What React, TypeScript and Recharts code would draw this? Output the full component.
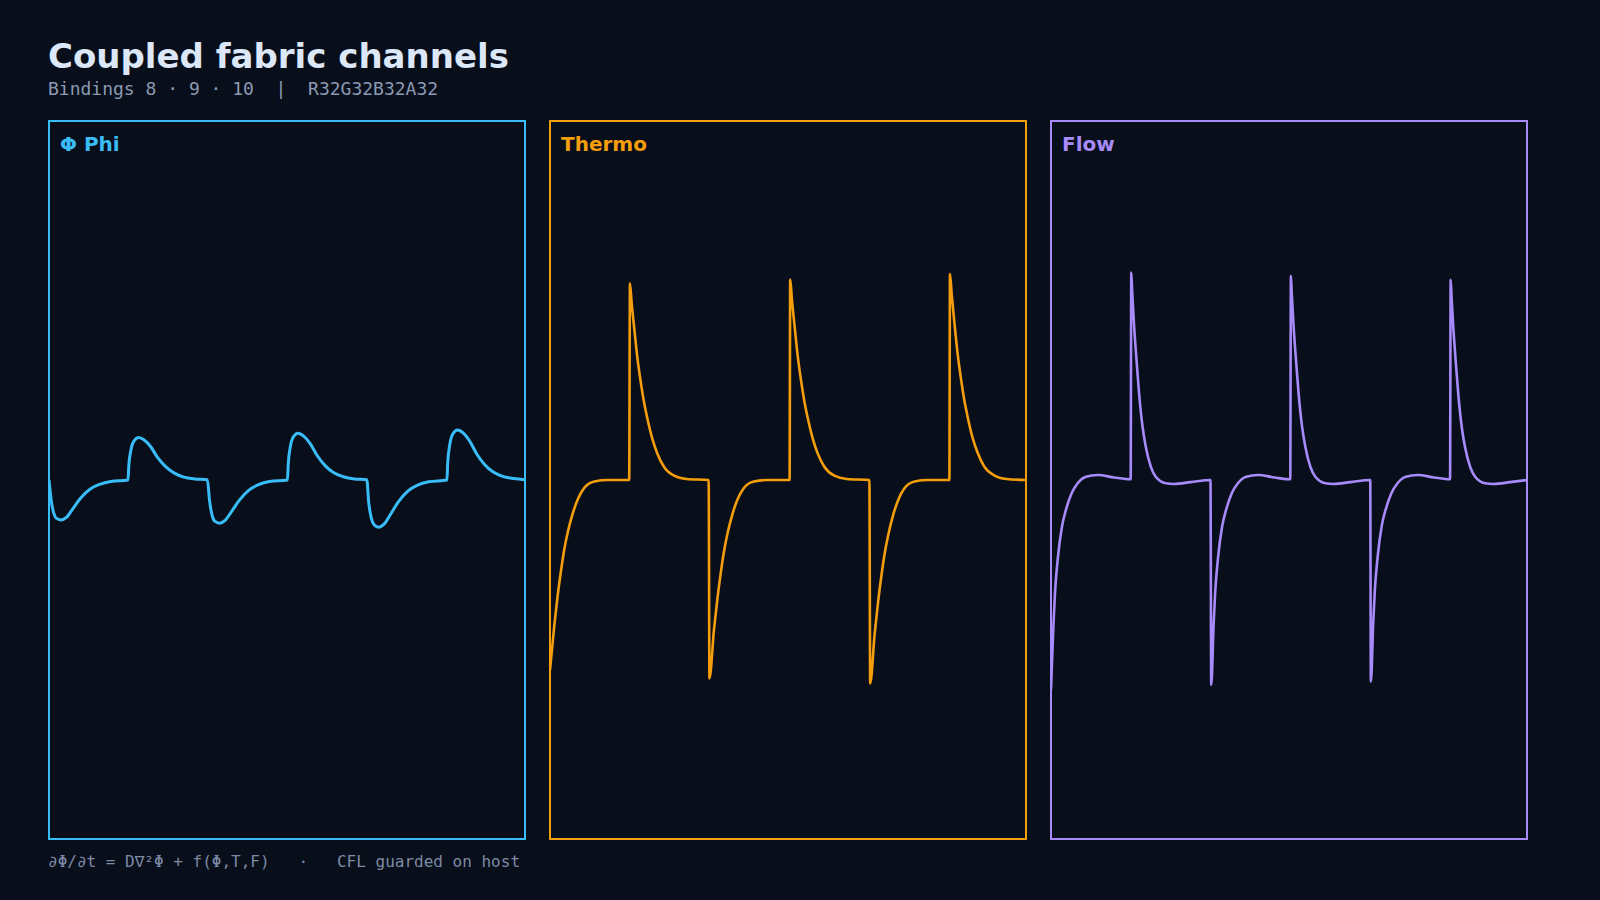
import React from 'react';
import { LineChart, Line, XAxis, YAxis } from 'recharts';

// Sampled channel traces, read off the capture. Time runs 0..300 across a panel,
// values are normalised to -1..1 (panel centre = 0).
const phiTime = [
  0, 1.5, 3, 4.5, 7.5, 11, 15, 20, 26, 32, 39, 49.8,
  50.3, 51.5, 53.5, 56.5, 60, 64, 68.5, 73.5, 79, 85, 92, 99.8,
  101.2, 102.8, 104.6, 107.5, 111, 115, 120, 126, 132, 139, 150.3,
  150.8, 152, 154, 157, 160.5, 164.5, 169, 174, 179.5, 185.5, 192.5, 200.3,
  201.5, 203.1, 204.9, 207.8, 211.3, 215.3, 220.3, 226.3, 232.3, 239.3, 250.8,
  251.3, 252.5, 254.5, 257.5, 261, 265, 269.5, 274.5, 280, 286, 293, 300,
];
const phiValue = [
  0, -0.06, -0.092, -0.106, -0.111, -0.104, -0.08, -0.05, -0.025, -0.012, -0.004, 0,
  0.04, 0.08, 0.108, 0.118, 0.111, 0.093, 0.062, 0.037, 0.019, 0.008, 0.003, 0.001,
  -0.058, -0.098, -0.115, -0.12, -0.112, -0.088, -0.056, -0.028, -0.013, -0.004, 0,
  0.045, 0.09, 0.12, 0.13, 0.122, 0.102, 0.068, 0.04, 0.02, 0.009, 0.003, 0.001,
  -0.062, -0.105, -0.124, -0.131, -0.122, -0.095, -0.06, -0.03, -0.014, -0.005, 0,
  0.048, 0.096, 0.128, 0.139, 0.131, 0.109, 0.073, 0.043, 0.022, 0.01, 0.004, 0.001,
];

const thermoTime = [
  0, 2.8, 5, 7, 9.1, 11.3, 14.4, 17.6, 21.7, 28, 36.4, 49.9,
  50.4, 51.5, 53, 55.2, 57.2, 59.3, 61.4, 64.6, 67.7, 71.9, 78.2, 86, 100,
  100.5, 103.3, 105.5, 107.5, 109.6, 111.8, 114.9, 118.1, 122.2, 128.5, 136.9, 151,
  151.4, 152.5, 154, 156.2, 158.2, 160.3, 162.4, 165.6, 168.7, 172.9, 179.2, 187, 201.3,
  201.8, 204.6, 206.8, 208.8, 210.9, 213.1, 216.2, 219.4, 223.5, 229.8, 238.2, 251.7,
  252.1, 253.2, 254.7, 256.9, 258.9, 261, 263.1, 266.3, 269.4, 273.6, 279.9, 287.7, 300,
];
const thermoValue = [
  -0.528, -0.4, -0.315, -0.25, -0.19, -0.143, -0.092, -0.053, -0.021, -0.004, 0, 0,
  0.546, 0.49, 0.425, 0.335, 0.272, 0.215, 0.17, 0.113, 0.073, 0.036, 0.012, 0.003, 0,
  -0.551, -0.418, -0.33, -0.262, -0.2, -0.15, -0.096, -0.055, -0.022, -0.004, 0, 0,
  0.557, 0.5, 0.434, 0.342, 0.277, 0.219, 0.173, 0.115, 0.074, 0.037, 0.012, 0.003, 0,
  -0.565, -0.428, -0.338, -0.268, -0.205, -0.154, -0.098, -0.056, -0.022, -0.004, 0, 0,
  0.572, 0.514, 0.445, 0.351, 0.285, 0.225, 0.178, 0.118, 0.077, 0.038, 0.013, 0.003, 0,
];

const flowTime = [
  0, 1.5, 2.5, 4.2, 6.9, 9.4, 13, 16.8, 22, 29.4, 39.8, 50.2,
  50.6, 51.2, 52.4, 53.9, 55.5, 57.7, 59.7, 62.9, 66, 72.3, 77.6, 88, 100.5,
  101, 102.5, 103.5, 105.2, 107.9, 110.4, 114, 117.8, 123, 130.4, 140.8, 150.8,
  151.2, 151.8, 153, 154.5, 156.1, 158.3, 160.3, 163.5, 166.6, 172.9, 178.2, 188.6, 201.2,
  201.6, 203.1, 204.1, 205.8, 208.5, 211, 214.6, 218.4, 223.6, 231, 241.4, 251.5,
  251.9, 252.5, 253.7, 255.2, 256.8, 259, 261, 264.2, 267.3, 273.6, 278.9, 289.3, 300,
];
const flowValue = [
  -0.583, -0.407, -0.315, -0.222, -0.13, -0.083, -0.037, -0.009, 0.009, 0.014, 0.007, 0.002,
  0.576, 0.52, 0.426, 0.333, 0.241, 0.148, 0.093, 0.037, 0.009, -0.009, -0.011, -0.006, 0,
  -0.569, -0.4, -0.31, -0.219, -0.128, -0.082, -0.036, -0.009, 0.009, 0.014, 0.007, 0.002,
  0.567, 0.512, 0.42, 0.328, 0.238, 0.146, 0.092, 0.036, 0.009, -0.009, -0.011, -0.006, 0,
  -0.56, -0.395, -0.306, -0.216, -0.126, -0.081, -0.036, -0.009, 0.009, 0.014, 0.007, 0.002,
  0.556, 0.503, 0.413, 0.322, 0.233, 0.143, 0.09, 0.036, 0.009, -0.009, -0.011, -0.006, 0,
];

const channelNames = ['Φ Phi', 'Thermo', 'Flow'];
const channelColors = ['#38bdf8', '#f59e0b', '#a78bfa'];

const BG = '#090e1b';
const PANEL_LEFT = [48, 549, 1050];
const PANEL_TOP = 120;
const PANEL_W = 478;
const PANEL_H = 720;

const toRows = (times: number[], values: number[]) =>
  times.map((t, i) => ({ t, v: values[i] }));

const channelData = [
  toRows(phiTime, phiValue),
  toRows(thermoTime, thermoValue),
  toRows(flowTime, flowValue),
];

const ChannelPanel = ({ idx }: { idx: number }) => {
  const color = channelColors[idx];
  const left = PANEL_LEFT[idx];
  return (
    <>
      <div
        style={{
          position: 'absolute',
          left,
          top: PANEL_TOP,
          width: PANEL_W,
          height: PANEL_H,
          border: `2px solid ${color}`,
          boxSizing: 'border-box',
        }}
      />
      <div style={{ position: 'absolute', left: left + 1, top: PANEL_TOP }}>
        <LineChart
          width={PANEL_W - 2}
          height={PANEL_H}
          data={channelData[idx]}
          margin={{ top: 0, right: 0, bottom: 0, left: 0 }}
        >
          <XAxis dataKey="t" type="number" domain={[0, 300]} hide />
          <YAxis type="number" domain={[-1, 1]} hide />
          <Line
            dataKey="v"
            type="monotone"
            stroke={color}
            strokeWidth={idx === 0 ? 3 : 2.6}
            dot={false}
            isAnimationActive={false}
          />
        </LineChart>
      </div>
    </>
  );
};

export default function App() {
  return (
    <div
      style={{
        position: 'absolute',
        left: 0,
        top: 0,
        width: 1600,
        height: 900,
        background: BG,
        overflow: 'hidden',
      }}
    >
      {[0, 1, 2].map((i) => (
        <ChannelPanel key={i} idx={i} />
      ))}

      {/* all text in one overlay so baselines can be placed exactly */}
      <svg
        width={1600}
        height={900}
        style={{ position: 'absolute', left: 0, top: 0, pointerEvents: 'none' }}
      >
        <text
          x={48}
          y={68}
          fill="#dce7f7"
          fontFamily="DejaVu Sans"
          fontWeight="bold"
          fontSize={34}
        >
          Coupled fabric channels
        </text>
        <text
          x={48}
          y={95}
          fill="#8b9ab3"
          fontFamily="DejaVu Sans Mono"
          fontSize={18}
          style={{ whiteSpace: 'pre' }}
        >
          {'Bindings 8 · 9 · 10  |  R32G32B32A32'}
        </text>
        {channelNames.map((name, i) => (
          <text
            key={name}
            x={PANEL_LEFT[i] + 12}
            y={151}
            fill={channelColors[i]}
            fontFamily="DejaVu Sans"
            fontWeight="bold"
            fontSize={20}
          >
            {name}
          </text>
        ))}
        <text
          x={48}
          y={867}
          fill="#7c8aa5"
          fontFamily="DejaVu Sans Mono"
          fontSize={16}
          style={{ whiteSpace: 'pre' }}
        >
          {'∂Φ/∂t = D∇²Φ + f(Φ,T,F)   ·   CFL guarded on host'}
        </text>
      </svg>
    </div>
  );
}
